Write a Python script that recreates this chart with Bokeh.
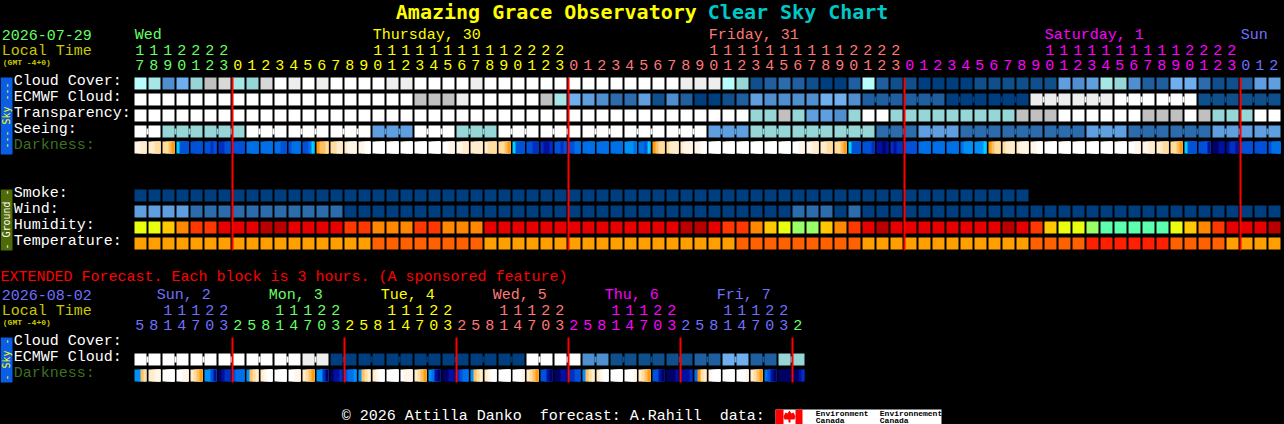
from bokeh.plotting import figure
from bokeh.models import Range1d
from bokeh.core.properties import value
from bokeh.embed import file_html
from bokeh.resources import INLINE

# ---------- data (levels) ----------
cloud_cover = [9,8,4,6,7,10,11,8,7,11,13,12,13,12,13,13,13,13,12,12,13,
               13,13,13,12,13,13,13,13,13,13,13,13,13,13,13,13,13,13,12,12,12,9,7,1,2,3,2,1,0,0,
               2,9,2,1,1,0,0,0,0,1,1,1,1,1,1,5,4,5,8,7,4,2,2,6,6,3,1,1,2,5,5]
ecmwf_cloud = [13]*20 + [10,10,10,12,13,13,13,13,13,10,8,6,5,4,3,3,5,1,4,2,0,0,1,2,5,4,4,4,4,6,6,4] \
              + [2]*3 + [2]*3 + [0]*3 + [0]*3 + [12]*3 + [12]*3 + [13]*3 + [13]*3 + [1]*3 + [1]*3
ecmwf_blocks = [1]*52 + [3]*10
transparency = [13]*44 + [7,7,10,7,5,5,4,7,13,13,7,7,7,7,7,7,7,7,7,10,10,10,13,13,13,13,13,13,10,10,10,13,10,7,7,7,13,13]
seeing_blocks = [2] + [3]*26 + [2]
seeing_values = [13,7,7,13,13,13,5,13,7,13,13,13,13,13,5,7,7,7,3,5,3,3,3,5,3,3,5,5]
darkness = [
 [11,11,10,10],[10,10,9,9],[9,9,8,7],[6,3,3,3],[3,3,3,3],[3,3,2,3],[2,2,3,3],[3,3,3,3],[4,4,4,4],[4,4,4,4],
 [4,4,3,3],[3,4,4,4],[3,3,4,6],[7,8,8,9],[9,9,10,10],[10,11,11,11],[11,11,12,12],[12,12,12,12],[12,12,12,12],[12,12,12,12],
 [12,12,12,12],[12,12,12,12],[12,12,11,11],[11,11,10,10],[10,10,10,10],[10,9,9,9],[9,9,8,7],[6,3,3,3],[3,3,2,2],[2,1,1,2],
 [3,3,2,3],[3,3,4,4],[4,4,4,4],[4,4,4,4],[4,4,4,4],[5,5,5,4],[4,4,3,6],[7,8,9,9],[9,10,10,10],[10,11,11,11],
 [11,11,12,12],[12,12,12,12],[12,12,12,12],[12,12,12,12],[12,12,12,12],[12,12,12,12],[12,12,12,12],[12,12,11,11],[11,11,10,10],[10,10,9,9],
 [9,9,8,7],[6,3,3,3],[3,3,3,2],[1,1,0,1],[2,1,2,2],[3,3,3,3],[4,4,4,4],[4,4,4,4],[4,4,4,4],[4,5,5,5],
 [5,5,5,6],[7,8,9,9],[9,10,10,10],[10,11,11,11],[11,11,12,12],[12,12,12,12],[12,12,12,12],[12,12,12,12],[12,12,12,12],[12,12,12,12],
 [12,12,12,12],[12,12,11,11],[11,11,10,10],[10,10,9,9],[9,9,8,7],[6,3,3,3],[3,3,3,1],[0,0,1,1],[1,2,2,1],[3,3,3,3],
 [3,3,3,3],[3,4,4,4]]
smoke = [0]*64
wind = [5,5,5,5] + [3]*11 + [0]*32 + [3,3,3,0,3] + [0]*30
humidity = [0,0,1,2,3,3,4,4,4,5,5,4,4,4,4,3,3,2,2,2,3,3,2,2,2,4,4,4,4,4,4,4,4,4,4,4,4,4,4,5,5,4,3,3,2,1,0,6,6,1,2,3,
            4,5,4,4,4,4,4,4,4,4,5,4,3,1,0,0,6,7,7,7,7,7,0,1,2,3,4,4,4,5]
temperature = [0]*17 + [1]*8 + [0]*18 + [1]*9 + [0]*12 + [1]*4 + [2]*6 + [1]*4 + [0]*4

ext_ecmwf_pairs = [13,13,13,13,13,13,12,0,0,0,0,0,0,0,13,13,4,1,1,1,2,6,2,7]
ext_darkness = [
 [5,5,8,9],[10,10,11,11],[12,12,12,12],[12,12,11,11],[10,9,8,7],[5,5,3,1],[0,1,2,2],[3,4,4,4],[5,8,9,10],[10,11,12,12],
 [12,12,12,12],[12,12,11,11],[10,9,8,7],[5,5,2,0],[0,1,1,2],[3,4,4,5],[5,8,9,10],[10,11,12,12],[12,12,12,12],[12,11,11,11],
 [10,9,8,7],[5,4,1,0],[0,0,1,1],[2,3,4,4],[5,8,9,10],[10,11,12,12],[12,12,12,12],[12,12,12,11],[10,9,8,7],[3,3,1,0],
 [0,0,1,1],[2,2,3,3],[5,8,9,10],[10,11,12,12],[12,12,12,12],[12,12,12,11],[10,9,8,7],[3,3,1,0],[0,0,0,1],[1,1,1,2],
 [4,7,9,10],[11,12,12,12],[12,12,12,12],[12,12,12,11],[10,9,8,7],[4,3,1,0],[0,0,0,0],[0,0,1,2]]

hours = [17,18,19,20,21,22,23] + list(range(24)) + list(range(24)) + list(range(24)) + [0,1,2]
hour_days = [0]*7 + [1]*24 + [2]*24 + [3]*24 + [4]*3
day_names = ["Wed", "Thursday, 30", "Friday, 31", "Saturday, 1", "Sun"]
day_start = [0, 17, 41, 65, 79]
ext_hours = [5,8,11,14,17,20,23] + [2,5,8,11,14,17,20,23]*5 + [2]
ext_days = [0]*7 + [1]*8 + [2]*8 + [3]*8 + [4]*8 + [5]*8 + [6]
ext_day_names = ["Sun, 2", "Mon, 3", "Tue, 4", "Wed, 5", "Thu, 6", "Fri, 7"]
midnight_main = [7, 31, 55, 79]
midnight_ext = [7, 15, 23, 31, 39, 47]

# ---------- styles ----------
CLOUD = ["#003f7f","#0f4f8c","#1f5f9f","#2c6cac","#4f8fcf","#5f9fdf","#6fafef","#96d6d6","#a6e6e6",
         "#b8fdfd","#c0c0c0","#d8d8d8","#eeeeee","#ffffff"]
DARK = ["#000066","#0010a0","#0030c0","#0050d8","#0070e8","#0090f8","#00d0ff","#ff9a10","#ffc060",
        "#ffdca0","#ffeccc","#fff6e8","#ffffff"]
HUM = ["#eaff10","#ffc800","#ff8800","#ff3800","#e60000","#b80000","#98ff68","#5cffb0"]
TEMP = ["#ffa000","#ff6000","#ff2000"]
DAY_COL = ["#66ff66","#ffff00","#ff7878","#ff00ff","#7070ff"]
EXT_COL = ["#7070ff","#66ff66","#ffff00","#ff7878","#ff00ff","#7070ff","#66ff66"]
MONO = "Liberation Mono"
LEFT, STEP, W, H = 134, 14, 12, 12

p = figure(width=1284, height=424, x_range=Range1d(0, 1284), y_range=Range1d(424, 0),
           x_axis_type=None, y_axis_type=None, toolbar_location=None, output_backend="svg",
           background_fill_color="black", border_fill_color="black", outline_line_color=None,
           min_border=0, min_border_left=0, min_border_right=0, min_border_top=0, min_border_bottom=0,
           styles={"position": "absolute", "left": "0px", "top": "0px", "background-color": "black"})
p.xgrid.visible = False
p.ygrid.visible = False


def cells(top, values, palette):
    xs = [LEFT + STEP * i for i in range(len(values))]
    p.quad(left=xs, right=[x + W for x in xs], top=[top] * len(xs), bottom=[top + H] * len(xs),
           fill_color=[palette[v] for v in values], line_color=None)


def bridges(top, values, blocks, palette):
    xs, cols, i = [], [], 0
    for b in blocks:
        for j in range(i, i + b - 1):
            xs.append(LEFT + STEP * j + W)
            cols.append(palette[values[j]])
        i += b
    p.quad(left=xs, right=[x + STEP - W for x in xs], top=[top + 3] * len(xs), bottom=[top + H - 3] * len(xs),
           fill_color=cols, line_color=None)


def strips(top, rows, palette):
    # each strip runs to the cell's right edge; the next one paints over it, so no seams appear
    ls, rs, cs = [], [], []
    for i, row in enumerate(rows):
        cell = LEFT + STEP * i
        for k, v in enumerate(row):
            ls.append(cell + k * W / 4)
            rs.append(cell + W)
            cs.append(palette[v])
    p.quad(left=ls, right=rs, top=[top] * len(ls), bottom=[top + H] * len(ls),
           fill_color=cs, line_color=None)


def label(x, y, s, color, size=15, style="normal", font=MONO, angle=0, align="left"):
    p.text(x=[x - 0.7], y=[y], text=[s], text_color=color, text_font=value(font), text_font_size=f"{size}px",
           text_font_style=style, text_baseline="middle", text_align=align, angle=angle)


def expand(vals, blocks):
    out = []
    for v, b in zip(vals, blocks):
        out += [v] * b
    return out


# title
label(396, 11.5, "Amazing Grace Observatory", "#ffff00", 20, "bold", "DejaVu Sans Mono")
label(708, 11.5, "Clear Sky Chart", "#00c8c8", 20, "bold", "DejaVu Sans Mono")

# left header, main
label(2, 34.5, "2026-07-29", "#66ff66")
label(2, 50.5, "Local Time", "#c8c800")
label(3, 62, "(GMT -4+0)", "#c8c800", 8, "bold")
for name, start, col in zip(day_names, day_start, DAY_COL):
    label(LEFT + STEP * start + 1, 35, name, col)
for i, (h, d) in enumerate(zip(hours, hour_days)):
    cx = LEFT + STEP * i + W / 2
    if h >= 10:
        label(cx, 49.5, str(h // 10), DAY_COL[d], align="center")
    label(cx, 64.5, str(h % 10), DAY_COL[d], align="center")

# side bars
SKY = "#0a5ee6"
p.quad(left=[0], right=[12], top=[77], bottom=[154], fill_color=SKY, line_color=None)
p.quad(left=[0], right=[12], top=[189], bottom=[250], fill_color="#4f6a08", line_color=None)
p.quad(left=[0], right=[12], top=[337], bottom=[382], fill_color=SKY, line_color=None)
ROT = 1.5708
SIDE = "DejaVu Sans Mono"
label(7, 115, "--- Sky ---", "#ffff00", 10, font=SIDE, angle=ROT, align="center")
label(7, 219, "- Ground -", "#ffffff", 10, font=SIDE, angle=ROT, align="center")
label(7, 359, "- Sky -", "#ffff00", 10, font=SIDE, angle=ROT, align="center")

# row labels
for y, s, c in [(81, "Cloud Cover:", "#fff"), (97, "ECMWF Cloud:", "#fff"), (113, "Transparency:", "#fff"),
                (129, "Seeing:", "#fff"), (145, "Darkness:", "#3c7020"),
                (193, "Smoke:", "#fff"), (209, "Wind:", "#fff"), (225, "Humidity:", "#fff"),
                (241, "Temperature:", "#fff"),
                (341, "Cloud Cover:", "#fff"), (357, "ECMWF Cloud:", "#fff"), (373, "Darkness:", "#3c7020")]:
    label(14, y, s, c)

# main rows
seeing = expand(seeing_values, seeing_blocks)
cells(77, cloud_cover, CLOUD)
cells(93, ecmwf_cloud, CLOUD)
bridges(93, ecmwf_cloud, ecmwf_blocks, CLOUD)
cells(109, transparency, CLOUD)
cells(125, seeing, CLOUD)
bridges(125, seeing, seeing_blocks, CLOUD)
strips(141, darkness, DARK)
cells(189, smoke, CLOUD)
cells(205, wind, CLOUD)
cells(221, humidity, HUM)
cells(237, temperature, TEMP)

# midnight lines
for i in midnight_main:
    x = LEFT + STEP * i
    p.quad(left=[x - 1], right=[x + 1], top=[77], bottom=[250], fill_color="#ff0000", line_color=None)

# extended
label(0.7, 276.5, "EXTENDED Forecast. Each block is 3 hours. (A sponsored feature)", "#ff0000")
label(2, 294.5, "2026-08-02", "#7070ff")
label(2, 310.5, "Local Time", "#c8c800")
label(3, 322, "(GMT -4+0)", "#c8c800", 8, "bold")
for k, (name, col) in enumerate(zip(ext_day_names, EXT_COL)):
    label(LEFT + 23 + 8 * STEP * k, 295, name, col)
for i, (h, d) in enumerate(zip(ext_hours, ext_days)):
    cx = LEFT + STEP * i + W / 2
    if h >= 10:
        label(cx, 309.5, str(h // 10), EXT_COL[d], align="center")
    label(cx, 324.5, str(h % 10), EXT_COL[d], align="center")
ext_ecmwf = expand(ext_ecmwf_pairs, [2] * 24)
cells(353, ext_ecmwf, CLOUD)
bridges(353, ext_ecmwf, [2] * 24, CLOUD)
strips(369, ext_darkness, DARK)
for i in midnight_ext:
    x = LEFT + STEP * i
    p.quad(left=[x - 1], right=[x + 1], top=[337], bottom=[382], fill_color="#ff0000", line_color=None)

# footer
label(342, 416, "\u00a9 2026 Attilla Danko\u00a0\u00a0forecast: A.Rahill\u00a0\u00a0data:", "#ffffff")
p.quad(left=[775], right=[941], top=[409], bottom=[424], fill_color="#ffffff", line_color=None)
p.quad(left=[775, 795], right=[783, 802], top=[409, 409], bottom=[424, 424], fill_color="#ff0000", line_color=None)
p.patch(x=[789, 791, 793, 795, 794, 790, 790, 788, 788, 784, 783, 785, 787],
        y=[410, 413, 412, 416, 419, 419, 422, 422, 419, 419, 416, 412, 413],
        fill_color="#ff0000", line_color=None)
label(816, 413, "Environment", "#000000", 8, "bold")
label(816, 419.5, "Canada", "#000000", 8, "bold")
label(880, 413, "Environnement", "#000000", 8, "bold")
label(880, 419.5, "Canada", "#000000", 8, "bold")

open("out.html", "w").write(file_html(p, INLINE))
